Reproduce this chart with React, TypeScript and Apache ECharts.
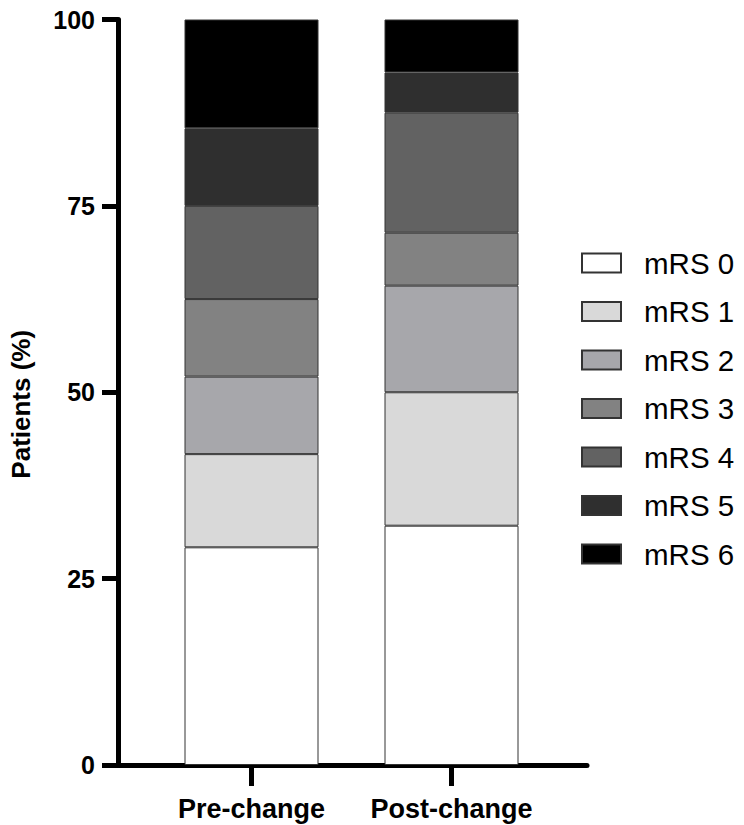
import React, { useEffect, useRef } from 'react';
import * as echarts from 'echarts';

const categories = ['Pre-change', 'Post-change'];
const levels = ['mRS 0', 'mRS 1', 'mRS 2', 'mRS 3', 'mRS 4', 'mRS 5', 'mRS 6'];
const mrs0 = [29.2, 32.1];
const mrs1 = [12.5, 17.9];
const mrs2 = [10.4, 14.3];
const mrs3 = [10.4, 7.1];
const mrs4 = [12.5, 16.1];
const mrs5 = [10.4, 5.4];
const mrs6 = [14.6, 7.1];
const yTicks = [0, 25, 50, 75, 100];
const colors = ['#ffffff', '#d9d9d9', '#a7a7ab', '#828282', '#626262', '#2f2f2f', '#000000'];

const font = "'Liberation Sans', Arial, sans-serif";

export default function App() {
  const chartRef = useRef<HTMLDivElement>(null);

  useEffect(() => {
    if (!chartRef.current) return;
    const chart = echarts.init(chartRef.current, null, { renderer: 'svg' });

    const values = [mrs0, mrs1, mrs2, mrs3, mrs4, mrs5, mrs6];

    const option = {
      animation: false,
      textStyle: { fontFamily: font },
      grid: [
        { left: 149.5, right: 192.5, top: 19.5, bottom: 60 },
        // only used to draw the long baseline under both bars
        { left: 116, right: 157, top: 19.5, bottom: 60 },
      ],
      legend: {
        orient: 'vertical',
        left: 581,
        top: 248,
        padding: 0,
        itemWidth: 39,
        itemHeight: 19,
        itemGap: 18.5,
        icon: 'rect',
        data: levels,
        textStyle: {
          fontFamily: font,
          fontSize: 29.5,
          lineHeight: 30,
          color: '#000',
          padding: [0, 0, 0, 18],
        },
      },
      xAxis: [
        {
          type: 'category',
          data: categories,
          gridIndex: 0,
          axisLine: { show: false },
          axisTick: {
            show: true,
            alignWithLabel: true,
            length: 21,
            lineStyle: { color: '#000', width: 5 },
          },
          axisLabel: {
            interval: 0,
            margin: 30,
            fontSize: 27,
            fontWeight: 'bold',
            color: '#000',
            fontFamily: font,
          },
        },
        {
          type: 'value',
          gridIndex: 1,
          min: 0,
          max: 1,
          axisLine: { show: true, lineStyle: { color: '#000', width: 5 } },
          axisTick: { show: false },
          axisLabel: { show: false },
          splitLine: { show: false },
        },
      ],
      yAxis: [
        {
          type: 'value',
          gridIndex: 0,
          min: 0,
          max: 100,
          interval: 25,
          offset: 33.5,
          name: 'Patients (%)',
          nameLocation: 'middle',
          nameGap: 84,
          nameTextStyle: {
            fontSize: 26,
            fontWeight: 'bold',
            color: '#000',
            fontFamily: font,
            padding: [0, 24, 0, 0],
          },
          axisLine: { show: true, lineStyle: { color: '#000', width: 5 } },
          axisTick: { show: true, length: 16, lineStyle: { color: '#000', width: 5 } },
          axisLabel: {
            margin: 23,
            fontSize: 25,
            fontWeight: 'bold',
            color: '#000',
            fontFamily: font,
            formatter: (v: number) => (yTicks.includes(v) ? String(v) : ''),
          },
          splitLine: { show: false },
        },
        {
          type: 'value',
          gridIndex: 1,
          min: 0,
          max: 100,
          show: false,
        },
      ],
      series: levels.map((name, i) => ({
        name,
        type: 'bar',
        stack: 'total',
        xAxisIndex: 0,
        yAxisIndex: 0,
        barWidth: 134,
        data: values[i],
        itemStyle: {
          color: colors[i],
          borderColor: '#333333',
          borderWidth: 1,
        },
      })),
    };

    chart.setOption(option);
    return () => chart.dispose();
  }, []);

  return (
    <div
      ref={chartRef}
      style={{ position: 'fixed', left: 0, top: 0, width: '744px', height: '825px', background: '#fff' }}
    />
  );
}
